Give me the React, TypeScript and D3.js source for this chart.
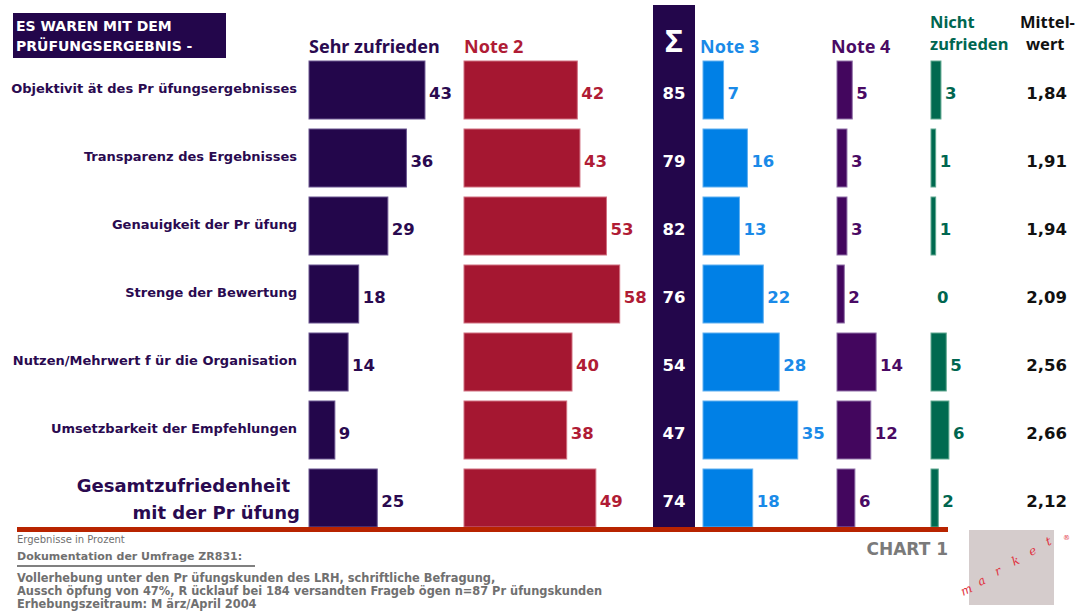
import React from "react";
import * as d3 from "d3";

const categories = [
  "Objektivit ät des Pr üfungsergebnisses",
  "Transparenz des Ergebnisses",
  "Genauigkeit der Pr  üfung",
  "Strenge der Bewertung",
  "Nutzen/Mehrwert f ür die Organisation",
  "Umsetzbarkeit der Empfehlungen",
  "Gesamtzufriedenheit|mit der Pr üfung",
];
const sehrZufrieden = [43, 36, 29, 18, 14, 9, 25];
const note2 = [42, 43, 53, 58, 40, 38, 49];
const summe = [85, 79, 82, 76, 54, 47, 74];
const note3 = [7, 16, 13, 22, 28, 35, 18];
const note4 = [5, 3, 3, 2, 14, 12, 6];
const nichtZufrieden = [3, 1, 1, 0, 5, 6, 2];
const mittelwert = ["1,84", "1,91", "1,94", "2,09", "2,56", "2,66", "2,12"];

const footLines = [
  "Vollerhebung unter den Pr  üfungskunden des LRH, schriftliche Befragung,",
  "Aussch öpfung von 47%, R ücklauf bei 184 versandten Frageb   ögen n=87 Pr üfungskunden",
  "Erhebungszeitraum: M  ärz/April 2004",
];

const W = 1086;
const H = 612;
const WIDE_FONT = "'DejaVu Sans', 'Open Sans', sans-serif";
const HEAD_FONT = "'Noto Sans', 'Open Sans', sans-serif";

export default function App() {
  const y = d3
    .scaleBand<string>()
    .domain(categories)
    .range([61, 527])
    .paddingInner(0.147)
    .paddingOuter(0);
  const bw = y.bandwidth();
  const x = d3.scaleLinear().domain([0, 60]).range([2, 161]);

  const cols = [
    { key: "sehr", vals: sehrZufrieden, x0: 309, fill: "#23064b", stroke: "#6a5590", text: "#2a0a50" },
    { key: "n2", vals: note2, x0: 464, fill: "#a51731", stroke: "#d07080", text: "#b01c35" },
    { key: "n3", vals: note3, x0: 703, fill: "#0080e6", stroke: "#60b0f0", text: "#1a8ae8" },
    { key: "n4", vals: note4, x0: 837, fill: "#43065e", stroke: "#9070a8", text: "#4a0a64" },
    { key: "nz", vals: nichtZufrieden, x0: 931, fill: "#006a50", stroke: "#60a890", text: "#006650" },
  ];

  return (
    <svg width={W} height={H} style={{ position: "absolute", left: 0, top: 0, background: "#fff" }}>
      {/* Title box */}
      <rect x={13} y={13} width={213} height={45} fill="#23064b" />
      <text x={16} y={31} fill="#fff" fontFamily={WIDE_FONT} fontWeight={700} fontSize={14}>
        ES WAREN MIT DEM
      </text>
      <text x={16} y={51} fill="#fff" fontFamily={WIDE_FONT} fontWeight={700} fontSize={14}>
        PRÜFUNGSERGEBNIS -
      </text>

      {/* Sigma column */}
      <rect x={653} y={5} width={42} height={522} fill="#23064b" />
      <text x={674} y={52} textAnchor="middle" fill="#fff" fontFamily={HEAD_FONT} fontWeight={700} fontSize={30}>
        Σ
      </text>

      {/* Headers */}
      <g fontFamily={HEAD_FONT} fontWeight={700} fontSize={18}>
        <text x={309} y={53} fill="#2a0a50">Sehr zufrieden</text>
        <text x={464} y={53} fill="#b01c35">Note 2</text>
        <text x={700} y={53} fill="#1a8ae8">Note 3</text>
        <text x={831} y={53} fill="#4a0a64">Note 4</text>
      </g>
      <g fontFamily={HEAD_FONT} fontWeight={700} fontSize={16.5}>
        <text x={930} y={28} fill="#006650">Nicht</text>
        <text x={930} y={50} fill="#006650">zufrieden</text>
        <text x={1020} y={28} fill="#111">Mittel-</text>
        <text x={1026} y={50} fill="#111">wert</text>
      </g>

      {/* Row labels */}
      {categories.map((c) => {
        const cy = (y(c) as number) + bw / 2;
        if (c.includes("|")) {
          const [a, b] = c.split("|");
          return (
            <g key={c} fontFamily={WIDE_FONT} fontWeight={700} fontSize={18} fill="#2a0a50" textAnchor="end">
              <text x={290} y={cy - 6}>{a}</text>
              <text x={300} y={cy + 21}>{b}</text>
            </g>
          );
        }
        return (
          <text
            key={c}
            x={297}
            y={cy + 3}
            textAnchor="end"
            fontFamily={WIDE_FONT}
            fontWeight={700}
            fontSize={13}
            fill="#2a0a50"
          >
            {c}
          </text>
        );
      })}

      {/* Bars */}
      {cols.map((col) =>
        categories.map((c, i) => {
          const v = col.vals[i];
          const top = y(c) as number;
          const w = x(v);
          return (
            <g key={col.key + i}>
              {v > 0 && (
                <rect
                  x={col.x0}
                  y={top}
                  width={w}
                  height={bw}
                  fill={col.fill}
                  stroke={col.stroke}
                  strokeWidth={1}
                />
              )}
              <text
                x={col.x0 + w + 4}
                y={top + bw / 2 + 9}
                fill={col.text}
                fontFamily={WIDE_FONT}
                fontWeight={700}
                fontSize={16.5}
              >
                {v}
              </text>
            </g>
          );
        })
      )}

      {/* Sum values */}
      {categories.map((c, i) => (
        <text
          key={"s" + i}
          x={674}
          y={(y(c) as number) + bw / 2 + 9}
          textAnchor="middle"
          fill="#fff"
          fontFamily={WIDE_FONT}
          fontWeight={700}
          fontSize={16.5}
        >
          {summe[i]}
        </text>
      ))}

      {/* Mittelwert */}
      {categories.map((c, i) => (
        <text
          key={"m" + i}
          x={1067}
          y={(y(c) as number) + bw / 2 + 9}
          textAnchor="end"
          fill="#111"
          fontFamily={WIDE_FONT}
          fontWeight={700}
          fontSize={16.5}
        >
          {mittelwert[i]}
        </text>
      ))}

      {/* Bottom red line */}
      <rect x={17} y={527} width={931} height={5} fill="#b82400" />

      {/* Footer */}
      <text x={17} y={543} fill="#707070" fontFamily={WIDE_FONT} fontSize={10}>
        Ergebnisse in Prozent
      </text>
      <text x={17} y={560} fill="#707070" fontFamily={WIDE_FONT} fontWeight={700} fontSize={11}>
        Dokumentation der Umfrage ZR831:
      </text>
      <rect x={17} y={565} width={238} height={2} fill="#808080" />
      {footLines.map((t, i) => (
        <text key={t} x={17} y={582 + i * 13} fill="#707070" fontFamily={WIDE_FONT} fontWeight={700} fontSize={11.4}>
          {t}
        </text>
      ))}
      <text x={948} y={555} textAnchor="end" fill="#7a7a7a" fontFamily={WIDE_FONT} fontWeight={700} fontSize={17}>
        CHART 1
      </text>

      {/* Logo */}
      <rect x={969} y={530} width={85} height={75} fill="#d5cccc" />
      <g fill="#e03040" fontFamily="'DejaVu Serif', serif" fontStyle="italic" fontSize={12}>
        {["m", "a", "r", "k", "e", "t"].map((ch, i) => (
          <text key={ch + i} x={963 + i * 17} y={596 - i * 10} transform={`rotate(-25 ${963 + i * 17} ${596 - i * 10})`}>
            {ch}
          </text>
        ))}
        <text x={1063} y={540} fontSize={7}>®</text>
      </g>
    </svg>
  );
}
